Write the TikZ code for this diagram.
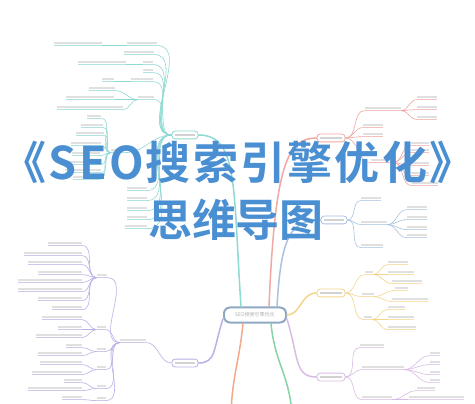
\documentclass[tikz,border=0pt]{standalone}
\usepackage{fontspec}
\newfontfamily\cjk{Noto Sans CJK SC}[BoldFont={Noto Sans CJK SC Bold}]
\newfontfamily\cjkwide{Noto Sans CJK SC}[BoldFont={Noto Sans CJK SC Bold}, LetterSpace=5]

\definecolor{titleblue}{HTML}{4A8FD2}
\definecolor{tealc}{HTML}{8FD9D3}
\definecolor{pinkc}{HTML}{F0A8A2}
\definecolor{bluec}{HTML}{A9C3DE}
\definecolor{yellowc}{HTML}{F3D68C}
\definecolor{lavc}{HTML}{D9BCE3}
\definecolor{purc}{HTML}{B7B2E6}
\definecolor{orangec}{HTML}{F2A98A}
\definecolor{greenc}{HTML}{86D3A4}
\definecolor{centerc}{HTML}{8FA9C4}

\tikzset{
  leaf/.style={text=gray!24, inner xsep=0pt, inner ysep=1pt},
  topic/.style={draw=#1, fill=white, rounded corners=3pt, line width=0.8pt, text=gray!35, inner xsep=3pt, inner ysep=2.5pt},
  branch/.style={draw=#1, line width=1.5pt, line cap=round},
  twig/.style={draw=#1, line width=0.6pt},
}

\begin{document}
\begin{tikzpicture}[x=1pt,y=-1pt]

  \useasboundingbox[fill=white] (0,0) rectangle (475,404);

  %centre and main topics
  \node[draw=centerc, line width=2pt, fill=white, rounded corners=6pt, minimum width=62pt, minimum height=15pt, text=gray!60,
        font=\cjk\fontsize{5}{5}\selectfont] (C) at (255,315) {SEO搜索引擎优化};

  \foreach \x/\y/\w/\c/\name in {185/135/20/tealc/A, 331/138/22/pinkc/B, 334/220/20/bluec/D,
                                  331/293/22/yellowc/E, 331/377/22/lavc/F, 185/363/20/purc/G}{
      \node[topic=\c] (\name) at (\x,\y) {\rule{\w pt}{2.8pt}};
  }

  \coordinate (H) at (231,412);
  \coordinate (K) at (292,412);

  %main branches
  \draw[branch=tealc] ([xshift=-14pt]C.north) .. controls +(-8,-120) and +(40,0) .. (A.east);
  \draw[branch=pinkc] ([xshift=14pt]C.north) .. controls +(6,-140) and +(-30,0) .. (B.west);
  \draw[branch=bluec] ([xshift=22pt]C.north) .. controls +(4,-70) and +(-30,0) .. (D.west);
  \draw[branch=yellowc] (C.east) .. controls +(14,0) and +(-16,0) .. (E.west);
  \draw[branch=lavc] ([yshift=-4pt]C.east) .. controls +(12,40) and +(-22,0) .. (F.west);
  \draw[branch=purc] ([yshift=-4pt]C.west) .. controls +(-10,30) and +(18,0) .. (G.east);
  \draw[branch=orangec] ([xshift=-12pt]C.south) .. controls +(-4,40) and +(2,-40) .. (H);
  \draw[branch=greenc] ([xshift=16pt]C.south) .. controls +(4,40) and +(-4,-40) .. (K);

  %left leaves
  \foreach \x/\y/\w/\c/\name in {
      142/43/30/tealc/a1, 78/43/48/tealc/a11, 139/52/30/tealc/a2, 148/62/10/tealc/a3, 102/62/48/tealc/a31,
      148/70/10/tealc/a4, 142/79/22/tealc/a5, 108/79/12/tealc/a51, 146/97/16/tealc/a6,
      102/88/26/tealc/a61, 90/97/48/tealc/a62, 90/107/66/tealc/a63, 118/150/14/tealc/a7,
      94/116/14/tealc/a71, 92/125/22/tealc/a72, 90/133/28/tealc/a73, 86/143/30/tealc/a74,
      86/153/28/tealc/a75, 85/162/32/tealc/a76, 83/170/36/tealc/a77, 86/177/26/tealc/a78,
      137/188/20/tealc/a81, 137/198/20/tealc/a82, 137/208/20/tealc/a83, 137/217/20/tealc/a84, 136/226/22/tealc/a85,
      133/340/26/purc/g0,
      102/275/10/purc/g1, 101/327/9/purc/g2, 101/349/9/purc/g3, 101/367/9/purc/g4, 101/386/9/purc/g5, 101/398/9/purc/g6,
      65/243/34/purc/g11, 53/253/58/purc/g12, 55/262/54/purc/g13, 60/272/44/purc/g14,
      50/280/64/purc/g15, 50/289/64/purc/g16, 60/298/44/purc/g17, 67/307/30/purc/g18,
      62/317/40/purc/g21, 70/327/24/purc/g22, 59/335/46/purc/g23,
      74/345/16/purc/g31, 60/353/44/purc/g32, 61/362/42/purc/g41, 57/372/50/purc/g42,
      73/380/18/purc/g51, 55/388/54/purc/g52, 72/397/20/purc/g61}{
      \node[leaf] (\name) at (\x,\y) {\rule{\w pt}{2.8pt}};
      \draw[twig=\c!70] (\name.south west) -- (\name.south east);
  }

  %right leaves
  \foreach \x/\y/\w/\c/\name in {
      383/108/36/pinkc/b1, 427/97/20/pinkc/b11, 427/107/20/pinkc/b12, 427/117/20/pinkc/b13,
      373/125/20/pinkc/b2, 373/134/20/pinkc/b3, 382/160/22/pinkc/b9,
      420/143/18/pinkc/b4, 420/150/18/pinkc/b5, 420/163/18/pinkc/b6, 420/173/18/pinkc/b7, 425/183/26/pinkc/b8,
      371/198/20/bluec/d1, 374/222/26/bluec/d2, 372/245/22/bluec/d3,
      417/207/20/bluec/d21, 417/217/20/bluec/d22, 417/227/20/bluec/d23, 417/235/20/bluec/d24,
      369/272/8/yellowc/e1, 368/294/12/yellowc/e2, 368/317/8/yellowc/e3,
      398/262/20/yellowc/e11, 401/272/26/yellowc/e12, 407/281/30/yellowc/e13,
      401/288/13/yellowc/e21, 410/299/36/yellowc/e22,
      396/307/17/yellowc/e31, 401/317/26/yellowc/e32, 402/327/28/yellowc/e33,
      372/345/24/lavc/f1, 383/367/42/lavc/f2, 377/397/30/lavc/f3,
      435/353/10/lavc/f21, 435/362/10/lavc/f22, 435/372/10/lavc/f23, 435/380/10/lavc/f24,
      426/388/18/lavc/f31, 436/397/55/lavc/f32}{
      \node[leaf] (\name) at (\x,\y) {\rule{\w pt}{2.8pt}};
      \draw[twig=\c!70] (\name.south west) -- (\name.south east);
  }

  %twigs, left side
  \foreach \name in {a1,a2,a3,a4,a5,a6,a7,a81,a82,a83,a84,a85}{
      \draw[twig=tealc] (A.west) to[out=180,in=0] (\name.south east);
  }
  \draw[twig=tealc] (a1.south west) -- (a11.south east);
  \draw[twig=tealc] (a3.south west) -- (a31.south east);
  \draw[twig=tealc] (a5.south west) -- (a51.south east);
  \foreach \name in {a61,a62,a63}{
      \draw[twig=tealc] (a6.south west) to[out=180,in=0] (\name.south east);
  }
  \foreach \name in {a71,a72,a73,a74,a75,a76,a77,a78}{
      \draw[twig=tealc] (a7.south west) to[out=180,in=0] (\name.south east);
  }

  \draw[twig=purc] (G.west) to[out=180,in=0] (g0.south east);
  \foreach \name in {g1,g2,g3,g4,g5,g6}{
      \draw[twig=purc] (g0.south west) to[out=180,in=0] (\name.south east);
  }
  \foreach \p/\list in {g1/{g11,g12,g13,g14,g15,g16,g17,g18}, g2/{g21,g22,g23}, g3/{g31,g32},
                        g4/{g41,g42}, g5/{g51,g52}, g6/{g61}}{
      \foreach \name in \list{
          \draw[twig=purc] (\p.south west) to[out=180,in=0] (\name.south east);
      }
  }

  %twigs, right side
  \foreach \p/\c/\list in {B/pinkc/{b1,b2,b3,b9}, D/bluec/{d1,d2,d3}, E/yellowc/{e1,e2,e3}, F/lavc/{f1,f2,f3}}{
      \foreach \name in \list{
          \draw[twig=\c] (\p.east) to[out=0,in=180] (\name.south west);
      }
  }
  \foreach \p/\c/\list in {b1/pinkc/{b11,b12,b13}, b9/pinkc/{b4,b5,b6,b7,b8}, d2/bluec/{d21,d22,d23,d24},
                           e1/yellowc/{e11,e12,e13}, e2/yellowc/{e21,e22}, e3/yellowc/{e31,e32,e33},
                           f2/lavc/{f21,f22,f23,f24}, f3/lavc/{f31,f32}}{
      \foreach \name in \list{
          \draw[twig=\c] (\p.south east) to[out=0,in=180] (\name.south west);
      }
  }

  %title
  \node[text=titleblue, font=\cjkwide\bfseries\fontsize{45}{45}\selectfont] (title) at (238,162) {《SEO搜索引擎优化》};
  \node[text=titleblue, font=\cjk\bfseries\fontsize{44}{44}\selectfont] (subtitle) at (236,220) {思维导图};

\end{tikzpicture}
\end{document}
